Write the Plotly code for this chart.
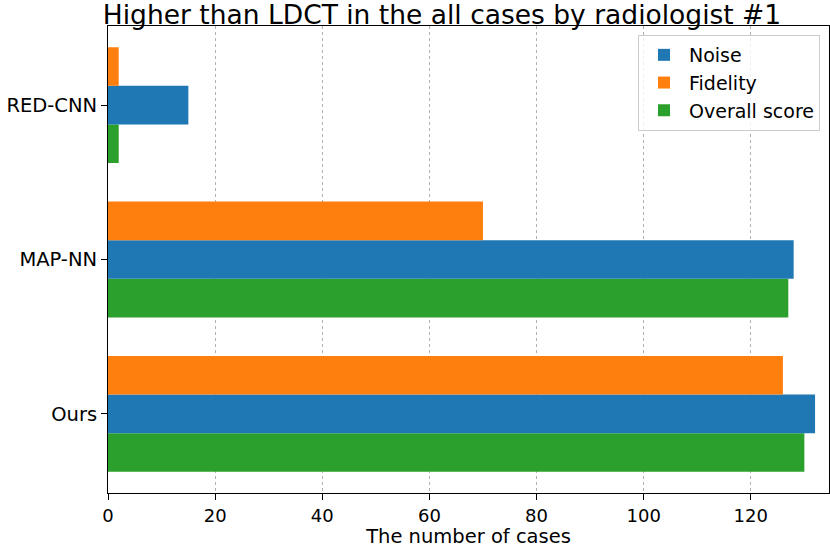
import plotly.graph_objects as go

categories = ["Ours", "MAP-NN", "RED-CNN"]
noise = [132, 128, 15]
fidelity = [126, 70, 2]
overall = [130, 127, 2]

W, H = 830, 548
L, R, T, B = 108, 829, 26, 493

fig = go.Figure()
# bottom-to-top order inside each group: Overall, Noise, Fidelity
fig.add_trace(go.Bar(y=categories, x=overall, orientation="h", name="Overall score",
                     marker=dict(color="#2ca02c", line=dict(width=0)), legendrank=3))
fig.add_trace(go.Bar(y=categories, x=noise, orientation="h", name="Noise",
                     marker=dict(color="#1f77b4", line=dict(width=0)), legendrank=1))
fig.add_trace(go.Bar(y=categories, x=fidelity, orientation="h", name="Fidelity",
                     marker=dict(color="#ff7f0e", line=dict(width=0)), legendrank=2))

font = "DejaVu Sans"
fig.update_layout(
    width=W, height=H,
    margin=dict(l=L, r=W - R, t=T, b=H - B, pad=0, autoexpand=False),
    paper_bgcolor="white", plot_bgcolor="white",
    barmode="group", bargap=0.25, bargroupgap=0,
    font=dict(family=font, size=19, color="black"),
    title=dict(text="Higher than LDCT in the all cases by radiologist #1",
               x=442 / W, xanchor="center", y=1 - 15 / H, yanchor="middle",
               font=dict(family=font, size=26.5, color="black")),
    showlegend=True,
    legend=dict(x=(820 - L) / (R - L), xanchor="right",
                y=(B - 35) / (B - T), yanchor="top",
                bordercolor="#cccccc", borderwidth=1, bgcolor="rgba(255,255,255,0.8)",
                font=dict(family=font, size=19), traceorder="normal", itemwidth=40),
)
fig.update_xaxes(range=[0, 134.6], tickvals=[0, 20, 40, 60, 80, 100, 120],
                 showgrid=True, gridcolor="#b0b0b0", griddash="dot", gridwidth=1,
                 showline=True, linecolor="black", linewidth=1, mirror=True,
                 ticks="outside", ticklen=6, tickcolor="black", zeroline=False,
                 layer="above traces", automargin=False,
                 title=dict(text="The number of cases", standoff=8, font=dict(size=19.5)),
                 tickfont=dict(size=18))
fig.update_yaxes(range=[-0.5125, 2.5125], showgrid=False,
                 showline=True, linecolor="black", linewidth=1, mirror=True,
                 ticks="outside", ticklen=6, tickcolor="black", zeroline=False,
                 automargin=False,
                 tickfont=dict(size=19.5))

# remove the default 8px page margin so the figure fills the window exactly
fig.write_html("out.html", config={"displayModeBar": False},
               post_script="document.body.style.margin='0';document.body.style.overflow='hidden';")
